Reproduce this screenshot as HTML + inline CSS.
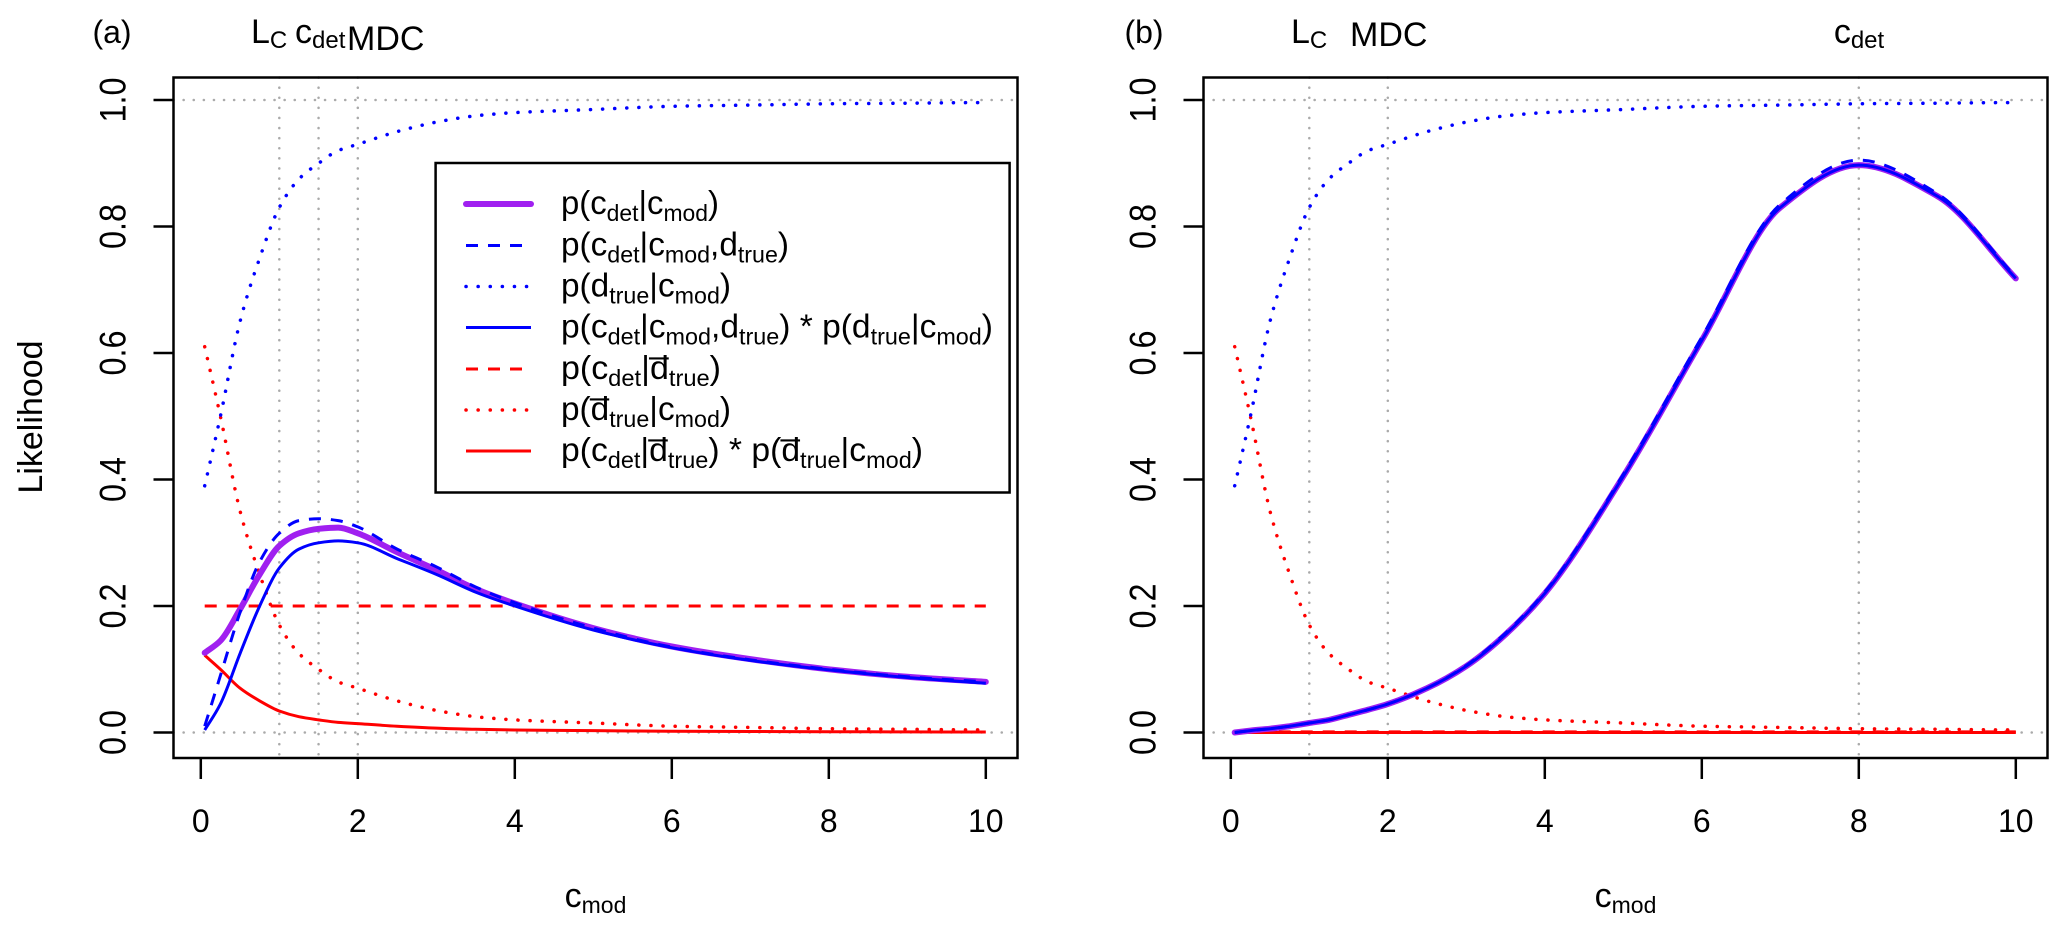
<!DOCTYPE html>
<html><head><meta charset="utf-8">
<style>
html,body{margin:0;padding:0;background:#fff;}
svg{display:block;font-family:"Liberation Sans",Arial,sans-serif;}
</style></head>
<body>
<svg id="chart" width="2067" height="932" viewBox="0 0 2067 932" xmlns="http://www.w3.org/2000/svg"></svg>
<script>
// ---- data ----
const xs = [0.05,0.25,0.5,0.75,1,1.25,1.5,1.75,2,2.5,3,3.5,4,5,6,7,8,9,10];
const xTicks = [0,2,4,6,8,10];
const yTicks = [0.0,0.2,0.4,0.6,0.8,1.0];
const yTickLabels = ["0.0","0.2","0.4","0.6","0.8","1.0"];
// panel (a)
const aDtrue    = [0.39,0.50,0.65,0.75,0.83,0.875,0.90,0.92,0.93,0.95,0.965,0.975,0.98,0.985,0.99,0.992,0.994,0.995,0.996];
const aNotDtrue = [0.61,0.50,0.35,0.25,0.17,0.125,0.10,0.08,0.07,0.05,0.035,0.025,0.02,0.015,0.01,0.008,0.006,0.005,0.004];
const aRedSolid = [0.122,0.10,0.07,0.05,0.034,0.025,0.02,0.016,0.014,0.01,0.007,0.005,0.004,0.003,0.002,0.0016,0.0012,0.001,0.0008];
const aRedDash  = [0.2,0.2,0.2,0.2,0.2,0.2,0.2,0.2,0.2,0.2,0.2,0.2,0.2,0.2,0.2,0.2,0.2,0.2,0.2];
const aBlueDash = [0.01,0.09,0.19,0.27,0.315,0.335,0.338,0.335,0.325,0.29,0.262,0.23,0.205,0.165,0.135,0.115,0.10,0.088,0.08];
const aBlueSolid= [0.004,0.045,0.125,0.2,0.26,0.29,0.30,0.303,0.30,0.275,0.25,0.222,0.2,0.162,0.134,0.114,0.099,0.087,0.078];
const aPurple   = [0.126,0.145,0.195,0.25,0.295,0.315,0.322,0.324,0.315,0.285,0.257,0.227,0.204,0.165,0.136,0.116,0.10,0.088,0.08];
const aVlines = [1,1.5,2];
// panel (b)
const bDtrue    = [0.39,0.50,0.65,0.75,0.83,0.875,0.90,0.92,0.93,0.95,0.965,0.975,0.98,0.985,0.99,0.992,0.994,0.995,0.996];
const bNotDtrue = [0.61,0.50,0.35,0.25,0.17,0.125,0.10,0.08,0.07,0.05,0.035,0.025,0.02,0.015,0.01,0.008,0.006,0.005,0.004];
const bRedSolid = [0,0,0,0,0,0,0,0,0,0,0,0,0,0,0,0,0,0,0];
const bRedDash  = [0.001,0.001,0.001,0.001,0.001,0.001,0.001,0.001,0.001,0.001,0.001,0.001,0.001,0.001,0.001,0.001,0.001,0.001,0.001];
const bBlueDash = [0.0,0.003,0.006,0.01,0.015,0.02,0.028,0.036,0.045,0.07,0.106,0.157,0.222,0.408,0.625,0.835,0.905,0.852,0.72];
const bBlueSolid= [0.0,0.003,0.006,0.01,0.015,0.02,0.028,0.036,0.045,0.07,0.105,0.155,0.22,0.405,0.62,0.83,0.897,0.848,0.718];
const bPurple   = [0.0,0.003,0.006,0.01,0.015,0.02,0.028,0.036,0.045,0.07,0.105,0.155,0.22,0.405,0.62,0.83,0.897,0.848,0.718];
const bVlines = [1,2,8];

const NS="http://www.w3.org/2000/svg";
const svg=document.getElementById('chart');
function mk(tag,attrs,parent){const e=document.createElementNS(NS,tag);for(const k in attrs)e.setAttribute(k,attrs[k]);(parent||svg).appendChild(e);return e;}

const Y0=732.5, YPER=632.5, UNIT=78.5;
function yS(v){return Y0-v*YPER;}
// monotone-in-x cubic hermite (Fritsch-Carlson style tangents)
function path(xf,vals){
  const P=xs.map((x,i)=>[xf(x),yS(vals[i])]);
  const n=P.length, m=new Array(n), d=[];
  for(let i=0;i<n-1;i++) d.push((P[i+1][1]-P[i][1])/(P[i+1][0]-P[i][0]));
  m[0]=d[0]; m[n-1]=d[n-2];
  for(let i=1;i<n-1;i++){
    if(d[i-1]*d[i]<=0) m[i]=0;
    else { const h0=P[i][0]-P[i-1][0], h1=P[i+1][0]-P[i][0];
      const w1=2*h1+h0, w2=h1+2*h0; m[i]=(w1+w2)/(w1/d[i-1]+w2/d[i]); }
  }
  let s="M"+P[0][0].toFixed(1)+","+P[0][1].toFixed(1);
  for(let i=0;i<n-1;i++){
    const h=(P[i+1][0]-P[i][0])/3;
    s+=" C"+(P[i][0]+h).toFixed(1)+","+(P[i][1]+m[i]*h).toFixed(1)+" "+(P[i+1][0]-h).toFixed(1)+","+(P[i+1][1]-m[i+1]*h).toFixed(1)+" "+P[i+1][0].toFixed(1)+","+P[i+1][1].toFixed(1);
  }
  return s;
}
const styles={
  purple:{stroke:"#a020f0","stroke-width":6,fill:"none","stroke-linecap":"round"},
  blueDash:{stroke:"#0000ff","stroke-width":3,fill:"none","stroke-dasharray":"12 10"},
  blueDot:{stroke:"#0000ff","stroke-width":3.5,fill:"none","stroke-dasharray":"0.1 12","stroke-linecap":"round"},
  blueSolid:{stroke:"#0000ff","stroke-width":3,fill:"none"},
  redDash:{stroke:"#ff0000","stroke-width":3,fill:"none","stroke-dasharray":"12 10"},
  redDot:{stroke:"#ff0000","stroke-width":3.5,fill:"none","stroke-dasharray":"0.1 12","stroke-linecap":"round"},
  redSolid:{stroke:"#ff0000","stroke-width":3,fill:"none"}
};
function txt(x,y,s,size,attrs,parent){const t=mk('text',Object.assign({x:x,y:y,'font-size':size,'fill':'#000'},attrs||{}),parent);t.textContent=s;return t;}

function panel(id,left,series,vlines){
  const g=mk('g',{});
  
  
  const right=left+844, top=77.5, bottom=758;
  const xf=x=>left+27.3+x*UNIT;
  [0,1].forEach(v=>{const l=mk('line',{x1:left,x2:right,y1:yS(v),y2:yS(v),stroke:"#aaaaaa","stroke-width":2.5,"stroke-dasharray":"0.1 10","stroke-linecap":"round"},g);
    });
  vlines.forEach(v=>{const l=mk('line',{x1:xf(v),x2:xf(v),y1:top,y2:bottom,stroke:"#aaaaaa","stroke-width":2.5,"stroke-dasharray":"0.1 10","stroke-linecap":"round"},g);
    });
  series.forEach(s=>{const p=mk('path',Object.assign({d:path(xf,s.vals)},styles[s.style]),g);
    });
  const b=mk('rect',{x:left,y:top,width:844,height:bottom-top,fill:"none",stroke:"#000","stroke-width":2.5},g);
  
  xTicks.forEach(v=>{mk('line',{x1:xf(v),x2:xf(v),y1:bottom,y2:779,stroke:"#000","stroke-width":2.5},g);
    const t=txt(xf(v),832,String(v),32,{'text-anchor':'middle'},g);
    });
  yTicks.forEach((v,i)=>{mk('line',{x1:left,x2:left-20,y1:yS(v),y2:yS(v),stroke:"#000","stroke-width":2.5},g);
    const t=txt(0,0,yTickLabels[i],37,{'text-anchor':'middle',textLength:45,lengthAdjust:'spacingAndGlyphs',transform:`translate(${left-48},${yS(v)}) rotate(-90)`},g);
    });
  const xl=txt(left+422,907,'c',34,{'text-anchor':'middle'},g);
  const sub=mk('tspan',{'font-size':23,dy:6},xl);sub.textContent='mod';
  
  return {g,xf};
}

panel('a',173.5,[
  {name:'red-solid-line',style:'redSolid',vals:aRedSolid},
  {name:'red-dashed-line',style:'redDash',vals:aRedDash},
  {name:'red-dotted-line',style:'redDot',vals:aNotDtrue},
  {name:'blue-dotted-line',style:'blueDot',vals:aDtrue},
  {name:'purple-line',style:'purple',vals:aPurple},
  {name:'blue-dashed-line',style:'blueDash',vals:aBlueDash},
  {name:'blue-solid-line',style:'blueSolid',vals:aBlueSolid}
],aVlines);
panel('b',1203.5,[
  {name:'red-solid-line',style:'redSolid',vals:bRedSolid},
  {name:'red-dashed-line',style:'redDash',vals:bRedDash},
  {name:'red-dotted-line',style:'redDot',vals:bNotDtrue},
  {name:'blue-dotted-line',style:'blueDot',vals:bDtrue},
  {name:'purple-line',style:'purple',vals:bPurple},
  {name:'blue-dashed-line',style:'blueDash',vals:bBlueDash},
  {name:'blue-solid-line',style:'blueSolid',vals:bBlueSolid}
],bVlines);

const yt=txt(0,0,'Likelihood',34,{'text-anchor':'middle',transform:'translate(42,417) rotate(-90)'});


function sublabel(x,y,main,subs,name,anchor){
  const t=txt(x,y,main,34,{'text-anchor':anchor||'start'});
  const s=mk('tspan',{'font-size':24,dy:5},t);s.textContent=subs;
  
  return t;
}
let t;
t=txt(112,43,'(a)',32,{'text-anchor':'middle'});
t=txt(1144,43,'(b)',32,{'text-anchor':'middle'});
sublabel(251,43,'L','C','lc-label-a');
sublabel(295,43,'c','det','cdet-label-a');
t=txt(347,50,'MDC',34,{});
sublabel(1291,43,'L','C','lc-label-b');
t=txt(1350,46,'MDC',34,{});
sublabel(1859,43,'c','det','cdet-label-b','middle');

const lg=mk('g',{});


const lr=mk('rect',{x:435.6,y:163,width:574,height:329.5,fill:"#fff",stroke:"#000","stroke-width":2.5},lg);

const legendStyles=['purple','blueDash','blueDot','blueSolid','redDash','redDot','redSolid'];
const legendParts=[
  [['p(c',0],['det',1],['|c',0],['mod',1],[')',0]],
  [['p(c',0],['det',1],['|c',0],['mod',1],[',d',0],['true',1],[')',0]],
  [['p(d',0],['true',1],['|c',0],['mod',1],[')',0]],
  [['p(c',0],['det',1],['|c',0],['mod',1],[',d',0],['true',1],[') * p(d',0],['true',1],['|c',0],['mod',1],[')',0]],
  [['p(c',0],['det',1],['|d\u0305',0],['true',1],[')',0]],
  [['p(d\u0305',0],['true',1],['|c',0],['mod',1],[')',0]],
  [['p(c',0],['det',1],['|d\u0305',0],['true',1],[') * p(d\u0305',0],['true',1],['|c',0],['mod',1],[')',0]]
];
const legendWidths=[158,228,170,432,160,170,362];
const rowY=[204,245.5,286.5,327.5,369,410,451];
legendParts.forEach((parts,i)=>{
  const ln=mk('line',Object.assign({x1:466,x2:531,y1:rowY[i],y2:rowY[i]},styles[legendStyles[i]]),lg);
  
  const tx=mk('text',{x:561,y:rowY[i]+10,'font-size':33,fill:'#000',textLength:legendWidths[i],lengthAdjust:'spacingAndGlyphs'},lg);
  let down=false;
  parts.forEach(p=>{const ts=mk('tspan',{},tx);
    if(p[1]&&!down){ts.setAttribute('dy',7);ts.setAttribute('font-size',23);down=true;}
    else if(p[1]){ts.setAttribute('font-size',23);}
    else if(!p[1]&&down){ts.setAttribute('dy',-7);down=false;}
    ts.textContent=p[0];});
  
  
});
</script>
</body></html>
